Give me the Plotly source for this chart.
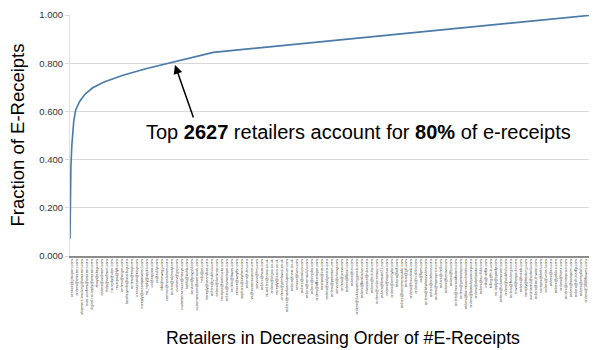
import plotly.graph_objects as go
import numpy as np

# Curve: retailer rank vs cumulative fraction of e-receipts
ranks = [1, 3, 10, 25, 50, 100, 150, 250, 400, 600, 900, 1400, 2000, 2627, 3200, 3780, 13800]
fractions = [0.072, 0.16, 0.26, 0.37, 0.46, 0.56, 0.605, 0.64, 0.672, 0.698, 0.722, 0.75, 0.777, 0.80, 0.823, 0.845, 1.0]

total_retailers = 13800

y_ticks = [0.0, 0.2, 0.4, 0.6, 0.8, 1.0]
y_tick_labels = ["0.000", "0.200", "0.400", "0.600", "0.800", "1.000"]

retailer_labels = [
    "service@groupon.com", "orders@amazon.com", "shipment-tracking@amazon.com", "auto-confirm@amazon.com",
    "digital-no-reply@amazon.com", "ebay@ebay.com", "orders@walmart.com", "help@walmart.com",
    "no-reply@uber.com", "receipts@lyft.com", "orders@target.com", "bestbuyinfo@bestbuy.com",
    "orders@etsy.com", "transaction@etsy.com", "noreply@steampowered.com", "no_reply@apple.com",
    "cs@zappos.com", "cs@zulily.com", "info@newegg.com", "contact@nordstrom.com",
    "orders@oldnavy.com", "custserv@gap.com", "customerservice@macys.com", "kohls@kohls.com",
    "service@paypal.com", "customercare@overstock.com", "help@jet.com", "noreply@seamless.com",
    "orders@grubhub.com", "orders@dominos.com", "receipts@starbucks.com", "orders@homedepot.com",
    "orders@lowes.com", "service@wayfair.com", "sephora@sephora.com", "orders@ulta.com",
    "vs@victoriassecret.com", "service@hm.com", "orders@asos.com", "uk-orders@asos.co.uk",
    "orders@argos.co.uk", "noreply@tesco.co.uk", "orders@johnlewis.co.uk", "orders@marksandspencer.com",
    "orders@next.co.uk", "service@ikea.com", "orders@costco.com", "orders@samsclub.com",
    "orders@staples.com", "orders@officedepot.com", "receipts@cvs.com", "orders@walgreens.com",
    "orders@petsmart.com", "service@chewy.com", "orders@jcrew.com", "orders@llbean.com",
    "orders@rei.com", "orders@dickssportinggoods.com", "orders@footlocker.com", "nikestore@nike.com",
    "orders@adidas.com", "orders@underarmour.com", "orders@forever21.com", "orders@express.com",
    "orders@anntaylor.com", "orders@loft.com", "orders@bananarepublic.com", "orders@gilt.com",
    "orders@hautelook.com", "orders@ruelala.com", "cs@6pm.com", "orders@bhphotovideo.com",
    "orders@adorama.com", "orders@monoprice.com", "orders@dell.com", "orders@lenovo.com",
    "orders@hp.com", "orders@microsoftstore.com", "orders@gamestop.com", "orders@barnesandnoble.com",
    "orders@bookdepository.com", "orders@abebooks.com", "orders@audible.com", "info@netflix.com",
    "billing@hulu.com", "no-reply@spotify.com", "orders@ticketmaster.com", "orders@stubhub.com",
    "orders@fandango.com", "travel@expedia.com", "orders@hotels.com", "noreply@booking.com",
    "automated@airbnb.com", "orders@southwest.com", "receipts@delta.com", "orders@united.com",
    "orders@aa.com", "orders@jetblue.com", "orders@hertz.com", "orders@enterprise.com",
    "orders@vistaprint.com", "orders@shutterfly.com", "orders@snapfish.com", "orders@1800flowers.com",
    "orders@ftd.com",
]

font_family = "Arial, Liberation Sans, sans-serif"

tick_positions = np.linspace(60, total_retailers - 60, len(retailer_labels))

fig = go.Figure()
fig.add_trace(go.Scatter(
    x=ranks, y=fractions, mode="lines",
    line=dict(color="#4a7aa8", width=1.6),
    hoverinfo="skip", showlegend=False,
))

# the page body adds an 8px margin, so the figure is 8px smaller than the window
fig.update_layout(
    width=589, height=342,
    margin=dict(l=62, r=4, t=7, b=94, autoexpand=False),
    paper_bgcolor="white", plot_bgcolor="white",
    font=dict(family=font_family, color="#222"),
    showlegend=False,
)

fig.update_xaxes(
    range=[1, total_retailers], automargin=False,
    tickmode="array", tickvals=tick_positions, ticktext=retailer_labels,
    tickangle=-90, tickfont=dict(size=3.8, color="#444", family=font_family),
    showgrid=False, zeroline=False,
    showline=True, linecolor="#8c8c8c", linewidth=1.5,
    ticks="", fixedrange=True,
)
fig.update_yaxes(
    range=[0, 1.0], automargin=False,
    tickmode="array", tickvals=y_ticks, ticktext=y_tick_labels,
    tickfont=dict(size=9.5, color="#333", family=font_family),
    showgrid=True, gridcolor="#d9d9d9", gridwidth=1,
    zeroline=False, showline=True, linecolor="#e0e0e0", linewidth=1,
    ticks="outside", ticklen=4, tickcolor="#d9d9d9",
    fixedrange=True,
)

fig.add_annotation(
    text="Fraction of E-Receipts", xref="paper", yref="paper",
    x=0, y=0.5, xshift=-53, textangle=-90, showarrow=False,
    xanchor="center", yanchor="middle",
    font=dict(size=18.5, color="#000", family=font_family),
)
fig.add_annotation(
    text="Retailers in Decreasing Order of #E-Receipts", xref="paper", yref="paper",
    x=0.522, y=0, yshift=-82, showarrow=False,
    xanchor="center", yanchor="middle",
    font=dict(size=17.7, color="#000", family=font_family),
)
fig.add_annotation(
    text="Top <b>2627</b> retailers account for <b>80%</b> of e-receipts",
    xref="paper", yref="paper", x=0.551, y=0.515, showarrow=False,
    xanchor="center", yanchor="middle",
    font=dict(size=20, color="#000", family=font_family),
)
fig.add_annotation(
    text="", x=2770, y=0.793, xref="x", yref="y",
    showarrow=True, ax=19, ay=54, arrowhead=2, arrowsize=1.2,
    arrowwidth=1.5, arrowcolor="#000",
)

fig.write_html("out.html")
